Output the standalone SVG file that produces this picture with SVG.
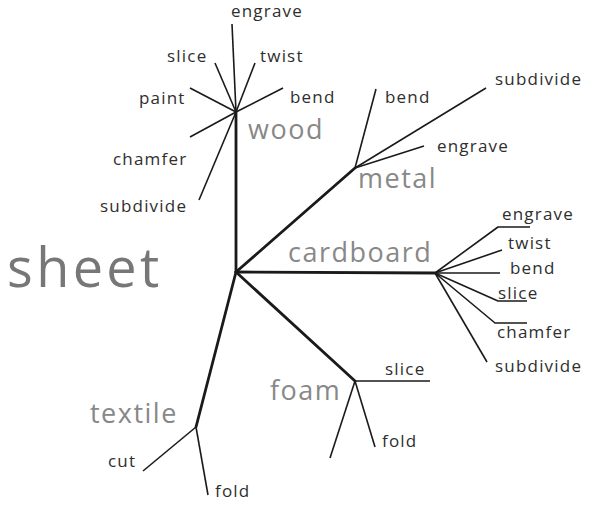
<svg xmlns="http://www.w3.org/2000/svg" width="589" height="506" viewBox="0 0 589 506">
  <style>
    .trunk { stroke: #1a1a1a; stroke-width: 2.8; fill: none; stroke-linecap: round; }
    .twig { stroke: #1a1a1a; stroke-width: 1.6; fill: none; stroke-linejoin: round; }
    .op { font-family: "Open Sans", "Liberation Sans", sans-serif; font-size: 17px; font-weight: 500; letter-spacing: 1.2px; fill: #2e2e2e; }
    .mat { font-family: "Open Sans", "Liberation Sans", sans-serif; font-size: 27px; letter-spacing: 1.5px; fill: #888; }
    .root { font-family: "Open Sans", "Liberation Sans", sans-serif; font-size: 54px; font-weight: 500; letter-spacing: 3.4px; fill: #777; }
  </style>
  <rect width="589" height="506" fill="#fff"/>

  <g id="connectors">
    <!-- trunks from the sheet hub -->
    <line class="trunk" x1="236" y1="272" x2="236" y2="112"/>
    <line class="trunk" x1="236" y1="272" x2="355" y2="168"/>
    <line class="trunk" x1="236" y1="272" x2="435" y2="273"/>
    <line class="trunk" x1="236" y1="272" x2="355" y2="381"/>
    <line class="trunk" x1="236" y1="272" x2="196" y2="427"/>
    <!-- wood twigs -->
    <line class="twig" x1="236" y1="112" x2="232" y2="24"/>
    <line class="twig" x1="236" y1="112" x2="215" y2="63"/>
    <line class="twig" x1="236" y1="112" x2="255" y2="63"/>
    <line class="twig" x1="236" y1="112" x2="190" y2="88"/>
    <line class="twig" x1="236" y1="112" x2="283" y2="88"/>
    <line class="twig" x1="236" y1="112" x2="190" y2="137"/>
    <line class="twig" x1="236" y1="112" x2="199" y2="200"/>
    <!-- metal twigs -->
    <line class="twig" x1="355" y1="168" x2="376" y2="89"/>
    <line class="twig" x1="355" y1="168" x2="486" y2="88"/>
    <line class="twig" x1="355" y1="168" x2="424" y2="146"/>
    <!-- cardboard twigs -->
    <polyline class="twig" points="435,273 498,227 530,227"/>
    <line class="twig" x1="435" y1="273" x2="502" y2="250"/>
    <line class="twig" x1="435" y1="273" x2="500" y2="273"/>
    <polyline class="twig" points="435,273 498,301 527,301"/>
    <polyline class="twig" points="435,273 495,323 527,323"/>
    <line class="twig" x1="435" y1="273" x2="487" y2="362"/>
    <!-- foam twigs -->
    <line class="twig" x1="355" y1="381" x2="430" y2="381"/>
    <line class="twig" x1="355" y1="381" x2="375" y2="447"/>
    <line class="twig" x1="355" y1="381" x2="330" y2="458"/>
    <!-- textile twigs -->
    <line class="twig" x1="196" y1="427" x2="143" y2="471"/>
    <line class="twig" x1="196" y1="427" x2="208" y2="495"/>
  </g>

  <g id="sheet">
    <text class="root" x="7" y="287">sheet</text>
  </g>

  <g id="wood">
    <text class="mat" x="248" y="139">wood</text>
    <text class="op" x="231" y="17">engrave</text>
    <text class="op" x="167" y="62">slice</text>
    <text class="op" x="260" y="62">twist</text>
    <text class="op" x="139" y="104">paint</text>
    <text class="op" x="290" y="103">bend</text>
    <text class="op" x="113" y="165">chamfer</text>
    <text class="op" x="100" y="212">subdivide</text>
  </g>

  <g id="metal">
    <text class="mat" x="358" y="188">metal</text>
    <text class="op" x="385" y="103">bend</text>
    <text class="op" x="495" y="85">subdivide</text>
    <text class="op" x="437" y="152">engrave</text>
  </g>

  <g id="cardboard">
    <text class="mat" x="288" y="262">cardboard</text>
    <text class="op" x="502" y="220">engrave</text>
    <text class="op" x="508" y="249">twist</text>
    <text class="op" x="510" y="274">bend</text>
    <text class="op" x="498" y="299">slice</text>
    <text class="op" x="497" y="338">chamfer</text>
    <text class="op" x="495" y="372">subdivide</text>
  </g>

  <g id="foam">
    <text class="mat" x="270" y="400">foam</text>
    <text class="op" x="385" y="375">slice</text>
    <text class="op" x="382" y="447">fold</text>
  </g>

  <g id="textile">
    <text class="mat" x="90" y="423">textile</text>
    <text class="op" x="108" y="467">cut</text>
    <text class="op" x="215" y="497">fold</text>
  </g>
</svg>
